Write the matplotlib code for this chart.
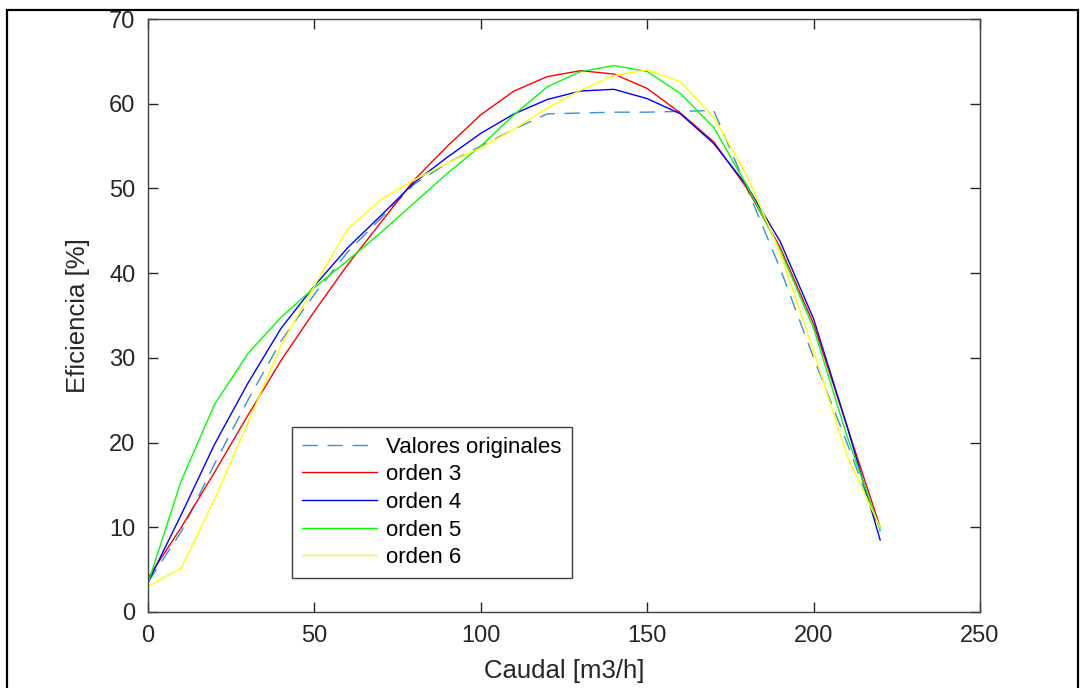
import numpy as np
import matplotlib.pyplot as plt
from matplotlib.patches import Rectangle

plt.rcParams['font.family'] = ['Liberation Sans', 'DejaVu Sans']

# Caudal [m3/h]
caudal = [0, 10, 20, 30, 40, 50, 60, 70, 80, 90, 100, 110, 120, 130, 140, 150,
          160, 170, 180, 190, 200, 210, 220]

# Eficiencia [%]
valores = [3.5, 9.5, 17.5, 25, 32, 37.5, 42.5, 46.5, 50.5, 53, 55, 57, 58.8, 58.9,
           59, 59, 59.1, 59.2, 50, 40.5, 30, 20, 9.5]
orden3 = [4, 10, 16.5, 23.2, 29.7, 35.5, 41, 46, 51, 55, 58.7, 61.5, 63.2, 63.9,
          63.5, 61.8, 58.9, 55.5, 50, 43, 34, 22, 10]
orden4 = [3.5, 11.5, 19.8, 27, 33.5, 38.5, 43, 46.8, 50.7, 53.7, 56.5, 58.8, 60.5,
          61.5, 61.7, 60.6, 58.8, 55.3, 50.3, 43.7, 34.6, 22, 8.5]
orden5 = [3.4, 15.5, 24.5, 30.5, 34.8, 38.3, 41.5, 44.8, 48.3, 51.8, 55, 58.7, 62,
          63.8, 64.5, 63.8, 61.2, 57.2, 50.3, 42.7, 33.5, 20.8, 9.7]
orden6 = [3, 5.2, 13.3, 22.3, 31.5, 38.5, 45.2, 48.7, 51, 53, 54.8, 57, 59.5, 61.6,
          63.3, 64, 62.6, 58.4, 51.5, 42.4, 30.8, 18.5, 10]

fig = plt.figure(figsize=(10.81, 6.88), dpi=100)
ax = fig.add_axes([148 / 1081, (688 - 612) / 688, 832 / 1081, 593 / 688])

ax.plot(caudal, valores, color='#3f8fd2', lw=1.0, dashes=(11, 7), label='Valores originales')
ax.plot(caudal, orden3, color='#ff0000', lw=1.0, label='orden 3')
ax.plot(caudal, orden4, color='#0000ff', lw=1.0, label='orden 4')
ax.plot(caudal, orden5, color='#00ff00', lw=1.0, label='orden 5')
ax.plot(caudal, orden6, color='#ffff00', lw=1.0, label='orden 6')

ax.set_xlim(0, 250)
ax.set_ylim(0, 70)
ax.set_xticks(np.arange(0, 251, 50))
ax.set_yticks(np.arange(0, 71, 10))
ax.tick_params(direction='in', length=7, width=1, colors='#262626', labelsize=17,
               top=True, right=True, pad=9)
for s in ax.spines.values():
    s.set_color('#404040')
    s.set_linewidth(1.0)

ax.set_xlabel('Caudal [m3/h]', fontsize=18.5, color='#262626', labelpad=9)
ax.set_ylabel('Eficiencia [%]', fontsize=18.5, color='#262626', labelpad=14)

leg = ax.legend(loc='lower left', bbox_to_anchor=(0.173, 0.057), borderaxespad=0,
                fontsize=16, handlelength=3.4, labelspacing=0.3, fancybox=False,
                framealpha=1, edgecolor='#404040', borderpad=0.45, handletextpad=0.4)
leg.get_frame().set_linewidth(1.0)

# marco exterior
fig.patches.append(Rectangle((7 / 1081, -0.05), (1078 - 7) / 1081, 1 - 10 / 688 + 0.05,
                             transform=fig.transFigure, fill=False, edgecolor='black',
                             linewidth=1.6))

plt.savefig('out.png', dpi=100)
